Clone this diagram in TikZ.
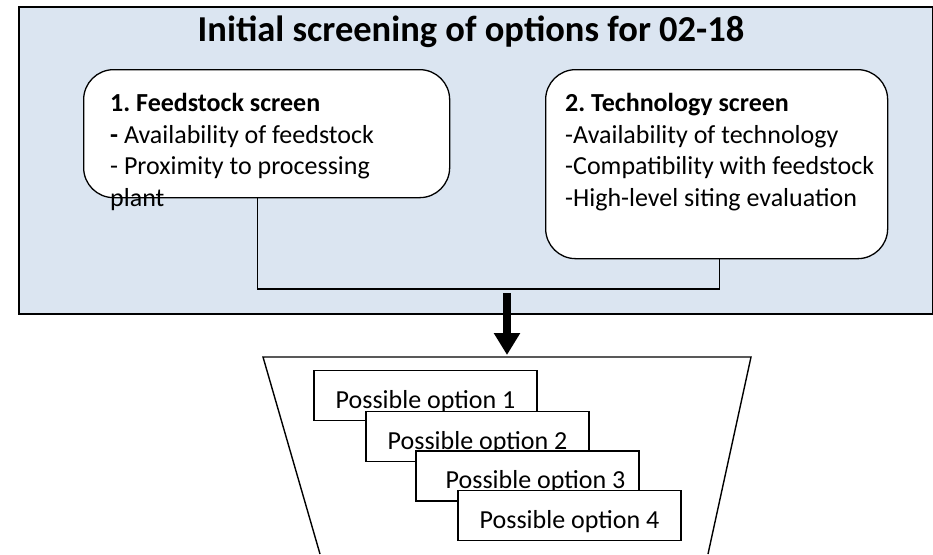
\documentclass[tikz,border=0pt]{standalone}
\usepackage{fontspec}
\setmainfont{Carlito}
\usetikzlibrary{arrows.meta}
\definecolor{screenblue}{HTML}{DBE5F1}
\newcommand{\boxfont}{\fontsize{26}{31.7}\selectfont\frenchspacing}
\newcommand{\titlefont}{\fontsize{36.5}{40}\selectfont\bfseries}

\begin{document}
\begin{tikzpicture}[x=1pt, y=-1pt,
    screenbox/.style={draw, line width=1.3pt, rounded corners=30pt, fill=white,
        anchor=north west},
    boxtext/.style={anchor=north west, align=left, inner sep=0pt, font=\boxfont},
    optionbox/.style={draw, line width=1.3pt, fill=white, minimum width=223pt,
        minimum height=50pt, inner sep=0pt, text height=25pt, text depth=0pt,
        font=\boxfont},
    connector/.style={draw, line width=1.4pt}]
    \useasboundingbox (0,0) rectangle (933,554);
    %
    \node[draw, line width=2.2pt, fill=screenblue, anchor=north west,
          minimum width=914pt, minimum height=307pt] (screen) at (18,6) {};
    \node[anchor=base, font=\titlefont] (title) at (471,41)
        {Initial screening of options for 02-18};

    % the two screens
    \node[screenbox, minimum width=366pt, minimum height=128pt] (feedbox) at (83,69) {};
    \node[screenbox, minimum width=342pt, minimum height=189pt] (techbox) at (545,69) {};

    \node[boxtext] (feedtext) at (110,93) {%
        \textbf{1. Feedstock screen}\\
        \textbf{-} Availability of feedstock\\
        - Proximity to processing\\
        plant};
    \node[boxtext] (techtext) at (565,93) {%
        \textbf{2. Technology screen}\\
        -Availability of technology\\
        -Compatibility with feedstock\\
        -High-level siting evaluation};

    \coordinate (joinline) at (507,289);
    \draw[connector] ([xshift=-9pt]feedbox.south) |- (joinline)
        -| ([xshift=3pt]techbox.south);

    % arrow down into the funnel
    \coordinate (arrowstart) at (507,293);
    \coordinate (arrowtip) at (507,355);
    \draw[line width=8pt, -{Triangle[width=25pt,length=22pt]}] (arrowstart) -- (arrowtip);

    % funnel, open at the bottom
    \coordinate (funnelBL) at (320,554);
    \coordinate (funnelTL) at (263,357);
    \coordinate (funnelTR) at (751,357);
    \coordinate (funnelBR) at (708,554);
    \draw[line width=1.4pt] (funnelBL) -- (funnelTL) -- (funnelTR) -- (funnelBR);

    \node[optionbox] (opt1) at (425.5,395.5) {Possible option 1};
    \node[optionbox] (opt2) at (477.5,436.5) {Possible option 2};
    \node[optionbox] (opt3) at (527.5,476) {\hspace{16pt}Possible option 3};
    \node[optionbox] (opt4) at (569.5,515.5) {Possible option 4};
  \end{tikzpicture}
\end{document}
